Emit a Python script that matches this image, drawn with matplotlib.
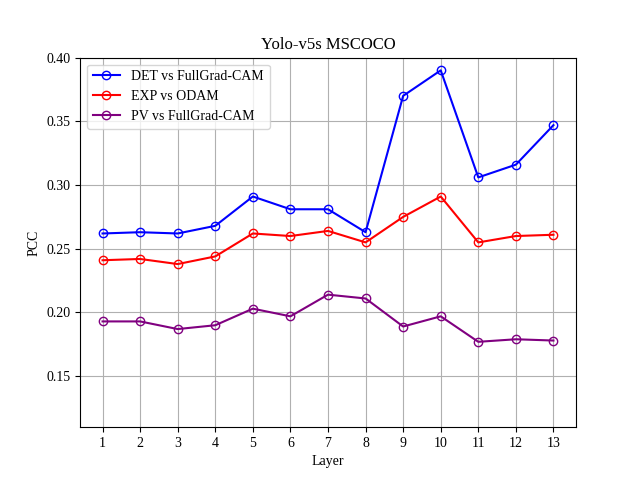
import matplotlib
matplotlib.use("Agg")
import matplotlib.pyplot as plt

plt.rcParams['font.family'] = ['Liberation Serif', 'DejaVu Serif']

layers = list(range(1, 14))
det = [0.262, 0.263, 0.262, 0.268, 0.291, 0.281, 0.281, 0.263, 0.370, 0.390, 0.306, 0.316, 0.347]
exp = [0.241, 0.242, 0.238, 0.244, 0.262, 0.260, 0.264, 0.255, 0.275, 0.291, 0.255, 0.260, 0.261]
pv = [0.193, 0.193, 0.187, 0.190, 0.203, 0.197, 0.214, 0.211, 0.189, 0.197, 0.177, 0.179, 0.178]

fig, ax = plt.subplots(figsize=(6.4, 4.8), dpi=100)
ax.plot(layers, det, color='blue', marker='o', mfc='none', label='DET vs FullGrad-CAM')
ax.plot(layers, exp, color='red', marker='o', mfc='none', label='EXP vs ODAM')
ax.plot(layers, pv, color='purple', marker='o', mfc='none', label='PV vs FullGrad-CAM')
ax.set_ylim(0.11, 0.40)
ax.set_xticks(layers)
ax.grid(True)
ax.set_xlabel('Layer')
ax.set_ylabel('PCC')
ax.set_title('Yolo-v5s MSCOCO')
ax.legend(loc='upper left')
fig.savefig('out.png')
